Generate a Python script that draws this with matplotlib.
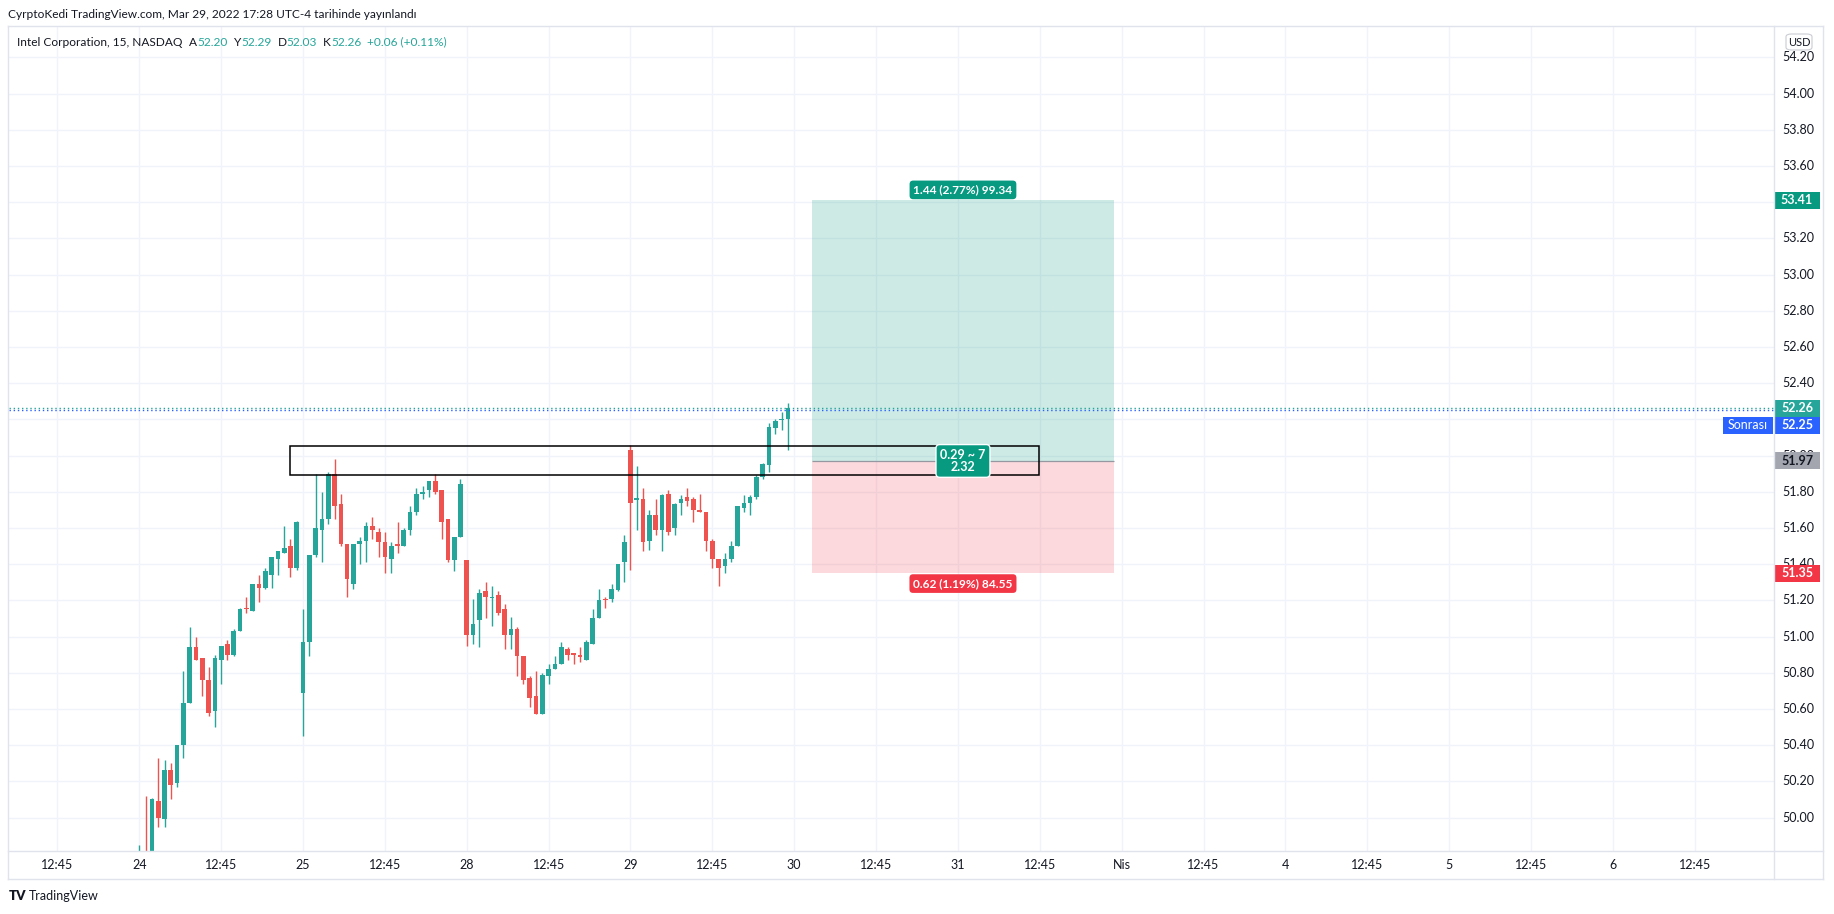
import matplotlib
matplotlib.use("Agg")
import matplotlib.pyplot as plt
from matplotlib.patches import Rectangle, FancyBboxPatch
from matplotlib.lines import Line2D
import numpy as np

plt.rcParams['font.family'] = ['Lato', 'DejaVu Sans']

# INTC 15m bars, 24-29 Mar 2022 (26 bars per session)
opens = [49.55, 49.79, 49.70, 50.09, 49.99, 50.26, 50.19, 50.40, 50.63, 50.94,
         50.88, 50.76, 50.59, 50.87, 50.96, 50.90, 51.03, 51.16, 51.14, 51.29,
         51.27, 51.34, 51.43, 51.46, 51.50, 51.38,
         50.69, 50.97, 51.45, 51.59, 51.65, 51.90, 51.73, 51.51, 51.29, 51.51,
         51.53, 51.61, 51.58, 51.52, 51.43, 51.51, 51.50, 51.59, 51.69, 51.79,
         51.81, 51.86, 51.81, 51.65, 51.42, 51.55,
         51.42, 51.01, 51.09, 51.25, 51.215, 51.23, 51.15, 51.01, 51.04, 50.89,
         50.77, 50.67, 50.57, 50.78, 50.82, 50.85, 50.93, 50.91, 50.90, 50.87,
         50.96, 51.10, 51.21, 51.205, 51.255, 51.41,
         52.03, 51.755, 51.76, 51.53, 51.67, 51.59, 51.79, 51.60, 51.74, 51.77,
         51.76, 51.70, 51.69, 51.53, 51.43, 51.39, 51.43, 51.50, 51.71, 51.74,
         51.77, 51.88, 51.95, 52.15, 52.195, 52.20]
highs = [49.85, 50.12, 50.11, 50.33, 50.32, 50.30, 50.40, 50.81, 51.05, 51.00,
         50.88, 50.83, 50.90, 50.95, 50.98, 51.04, 51.16, 51.22, 51.29, 51.34,
         51.38, 51.44, 51.47, 51.61, 51.54, 51.64,
         51.15, 51.45, 51.90, 51.80, 51.91, 51.98, 51.79, 51.51, 51.51, 51.55,
         51.63, 51.66, 51.60, 51.58, 51.52, 51.63, 51.60, 51.72, 51.82, 51.83,
         51.86, 51.90, 51.81, 51.65, 51.55, 51.87,
         51.42, 51.21, 51.26, 51.30, 51.28, 51.25, 51.18, 51.11, 51.05, 50.89,
         50.78, 50.81, 50.80, 50.85, 50.89, 50.97, 50.94, 50.91, 50.94, 50.98,
         51.15, 51.26, 51.22, 51.29, 51.40, 51.56,
         52.06, 51.94, 51.82, 51.70, 51.76, 51.79, 51.81, 51.74, 51.78, 51.82,
         51.77, 51.79, 51.69, 51.54, 51.43, 51.46, 51.53, 51.72, 51.78, 51.78,
         51.89, 51.96, 52.18, 52.20, 52.24, 52.29]
lows = [49.50, 49.65, 49.68, 49.95, 49.95, 50.10, 50.17, 50.33, 50.63, 50.87,
        50.67, 50.56, 50.50, 50.74, 50.87, 50.89, 51.03, 51.13, 51.14, 51.19,
        51.26, 51.27, 51.34, 51.46, 51.33, 51.37,
        50.45, 50.89, 51.44, 51.41, 51.62, 51.65, 51.50, 51.22, 51.26, 51.40,
        51.41, 51.54, 51.44, 51.35, 51.35, 51.46, 51.50, 51.56, 51.67, 51.76,
        51.77, 51.79, 51.54, 51.41, 51.36, 51.55,
        50.95, 50.96, 50.94, 51.10, 51.06, 51.12, 50.93, 50.93, 50.78, 50.74,
        50.61, 50.57, 50.57, 50.74, 50.82, 50.85, 50.87, 50.85, 50.86, 50.87,
        50.96, 51.10, 51.16, 51.19, 51.25, 51.30,
        51.37, 51.59, 51.47, 51.48, 51.56, 51.47, 51.56, 51.56, 51.67, 51.72,
        51.63, 51.69, 51.47, 51.38, 51.28, 51.35, 51.41, 51.50, 51.69, 51.67,
        51.76, 51.87, 51.91, 52.12, 52.14, 52.03]
closes = [49.78, 49.70, 50.10, 50.00, 50.26, 50.18, 50.40, 50.63, 50.94, 50.87,
          50.76, 50.58, 50.88, 50.95, 50.90, 51.03, 51.15, 51.15, 51.29, 51.27,
          51.36, 51.44, 51.47, 51.49, 51.38, 51.63,
          50.97, 51.45, 51.60, 51.65, 51.90, 51.72, 51.51, 51.32, 51.51, 51.53,
          51.61, 51.59, 51.52, 51.44, 51.50, 51.50, 51.59, 51.69, 51.79, 51.80,
          51.86, 51.80, 51.63, 51.42, 51.55, 51.84,
          51.01, 51.07, 51.24, 51.22, 51.22, 51.13, 51.01, 51.04, 50.89, 50.76,
          50.66, 50.57, 50.79, 50.82, 50.85, 50.94, 50.90, 50.90, 50.885, 50.97,
          51.10, 51.20, 51.20, 51.26, 51.40, 51.52,
          51.74, 51.765, 51.52, 51.67, 51.59, 51.78, 51.58, 51.73, 51.76, 51.75,
          51.70, 51.69, 51.53, 51.43, 51.38, 51.43, 51.50, 51.72, 51.735, 51.77,
          51.88, 51.955, 52.155, 52.19, 52.20, 52.26]

day_labels = ["24", "25", "28", "29", "30", "31", "Nis", "4", "5", "6"]
mid_label = "12:45"
bars_per_day = 26
price_ticks = np.round(np.arange(50.0, 54.21, 0.2), 2)

last_price = 52.26
post_price = 52.25
entry, target, stop = 51.97, 53.41, 51.35
pos_start, pos_end = 106.8, 154.8
zone_start, zone_end = 24, 142.9
zone_low, zone_high = 51.895, 52.055

header = "CyrptoKedi TradingView.com, Mar 29, 2022 17:28 UTC-4 tarihinde yayınlandı"
symbol = "Intel Corporation, 15, NASDAQ"
ohlc_keys = ["A", "Y", "D", "K"]
ohlc_vals = ["52.20", "52.29", "52.03", "52.26"]
change = "+0.06 (+0.11%)"
target_txt = "1.44 (2.77%) 99.34"
stop_txt = "0.62 (1.19%) 84.55"
ratio_txt = "0.29 ~ 7\n2.32"

UP, DOWN = '#26a69a', '#ef5350'
TEAL, RED, BLUE = '#089981', '#f23645', '#2962ff'
TEXT, GRID, BORDER = '#131722', '#f0f3fa', '#e0e3eb'

W, H = 1834, 914
fig = plt.figure(figsize=(W / 100, H / 100), dpi=100)
fig.patch.set_facecolor('white')

# main pane: x 9..1774, y 26..851 (px from top)
ax = fig.add_axes([9 / W, 1 - 851 / H, (1774 - 9) / W, (851 - 26) / H])
ymin, ymax = 49.815, 54.373
ax.set_xlim(-20.7, 259.6)
ax.set_ylim(ymin, ymax)
for s in ax.spines.values():
    s.set_visible(False)

# time scale ticks
xt, xl = [], []
for k in range(-1, len(day_labels)):
    if k >= 0:
        xt.append(k * bars_per_day)
        xl.append(day_labels[k])
    xt.append(k * bars_per_day + 13)
    xl.append(mid_label)
ax.set_xticks(xt)
ax.set_xticklabels(xl, fontsize=9, color=TEXT)
ax.set_yticks(price_ticks)
ax.tick_params(axis='x', length=0, pad=6)
ax.tick_params(axis='y', length=0, labelleft=False)
ax.grid(True, color=GRID, lw=1.0)
ax.set_axisbelow(True)

# candles
o = np.array(opens); h = np.array(highs); l = np.array(lows); c = np.array(closes)
x = np.arange(len(o))
cols = np.where(c >= o, UP, DOWN)
ax.vlines(x, l, h, colors=cols, lw=1.0, zorder=3)
ax.bar(x, np.maximum(np.abs(c - o), 0.006), bottom=np.minimum(o, c), width=0.74,
       color=cols, lw=0, zorder=3)

# long position tool
ax.add_patch(Rectangle((pos_start, entry), pos_end - pos_start, target - entry,
                       fc=TEAL, alpha=0.2, lw=0, zorder=2))
ax.add_patch(Rectangle((pos_start, stop), pos_end - pos_start, entry - stop,
                       fc=RED, alpha=0.19, lw=0, zorder=2))
ax.hlines(entry, pos_start, pos_end, color='#9598a1', lw=0.9, zorder=2)
mid = (pos_start + pos_end) / 2
ax.annotate(target_txt, (mid, target), xytext=(0, 7.5), textcoords='offset points',
            ha='center', va='center', color='white', fontsize=8.6, fontweight='bold',
            bbox=dict(boxstyle='round,pad=0.32,rounding_size=0.3', fc=TEAL, ec='none'), zorder=6)
ax.annotate(stop_txt, (mid, stop), xytext=(0, -7.5), textcoords='offset points',
            ha='center', va='center', color='white', fontsize=8.6, fontweight='bold',
            bbox=dict(boxstyle='round,pad=0.32,rounding_size=0.3', fc=RED, ec='none'), zorder=6)
ax.annotate(ratio_txt, (mid, entry), ha='center', va='center', color='white',
            fontsize=9, fontweight='bold', linespacing=1.0,
            bbox=dict(boxstyle='round,pad=0.35,rounding_size=0.3', fc=TEAL, ec='white', lw=1),
            zorder=7)

# resistance box
ax.add_patch(Rectangle((zone_start, zone_low), zone_end - zone_start, zone_high - zone_low,
                       fill=False, ec='black', lw=1.1, zorder=5))

# post market and last price lines
ax.axhline(post_price, color=BLUE, ls=(0, (1, 2)), lw=1.0, zorder=4)
ax.axhline(last_price, color=UP, ls=(0, (1, 2)), lw=1.0, zorder=4)

# price scale
axr = fig.add_axes([1774 / W, 1 - 851 / H, 49 / W, (851 - 26) / H])
axr.set_xlim(0, 1)
axr.set_ylim(ymin, ymax)
axr.axis('off')

tag_h = 17 / 181.0
post_tag_y = last_price - tag_h

for p in price_ticks:
    if abs(p - post_tag_y) < tag_h / 2:
        continue  # hidden under the post-market tag
    axr.text(0.5, p, f"{p:.2f}", ha='center', va='center', fontsize=9, color=TEXT)


def price_tag(p, txt, fc, tc='white'):
    axr.add_patch(Rectangle((0.0, p - tag_h / 2), 0.94, tag_h, fc=fc, lw=0,
                            zorder=5, clip_on=False))
    axr.text(0.47, p, txt, ha='center', va='center', fontsize=9, color=tc,
             fontweight='bold', zorder=6, clip_on=False)


price_tag(target, f"{target:.2f}", TEAL)
price_tag(last_price, f"{last_price:.2f}", UP)
price_tag(post_tag_y, f"{post_price:.2f}", BLUE)
price_tag(entry, f"{entry:.2f}", '#a3a6af', TEXT)
price_tag(stop, f"{stop:.2f}", RED)
axr.add_patch(Rectangle((-1.04, post_tag_y - tag_h / 2), 1.02, tag_h, fc=BLUE,
                        lw=0, zorder=5, clip_on=False))
axr.text(-0.53, post_tag_y, "Sonrası", ha='center', va='center', fontsize=9,
         color='white', zorder=6, clip_on=False)

# USD badge
fig.patches.append(FancyBboxPatch((1786 / W, 1 - 50 / H), 26 / W, 16 / H,
                                  boxstyle='round,pad=0,rounding_size=0.003',
                                  fc='white', ec='#c9ccd3', lw=0.8,
                                  transform=fig.transFigure, figure=fig))
fig.text(1799 / W, 1 - 42 / H, "USD", ha='center', va='center', fontsize=8, color=TEXT)


# frame lines
def fline(x0, y0, x1, y1):
    fig.add_artist(Line2D([x0 / W, x1 / W], [1 - y0 / H, 1 - y1 / H], color=BORDER, lw=1.0))


fline(8, 26, 1823, 26)
fline(8, 879, 1823, 879)
fline(8, 26, 8, 879)
fline(1823, 26, 1823, 879)
fline(1774, 26, 1774, 879)
fline(8, 851, 1823, 851)

# header texts
fig.text(8 / W, 1 - 14 / H, header, va='center', fontsize=8.6, color=TEXT)
renderer = fig.canvas.get_renderer()
segs = [(symbol, TEXT, 7)]
for k, v in zip(ohlc_keys, ohlc_vals):
    segs += [(k, TEXT, 0), (v, UP, 6)]
segs.append((change, UP, 0))
xp = 17
for txt, col, gap in segs:
    t = fig.text(xp / W, 1 - 42 / H, txt, va='center', fontsize=8.6, color=col)
    xp = t.get_window_extent(renderer).x1 + gap

# footer logo
fig.text(9 / W, 1 - 896 / H, "TV", va='center', fontsize=9.5, fontweight='heavy', color=TEXT)
fig.text(29 / W, 1 - 896 / H, "TradingView", va='center', fontsize=9, color=TEXT)

fig.savefig('out.png', dpi=100, facecolor='white')
